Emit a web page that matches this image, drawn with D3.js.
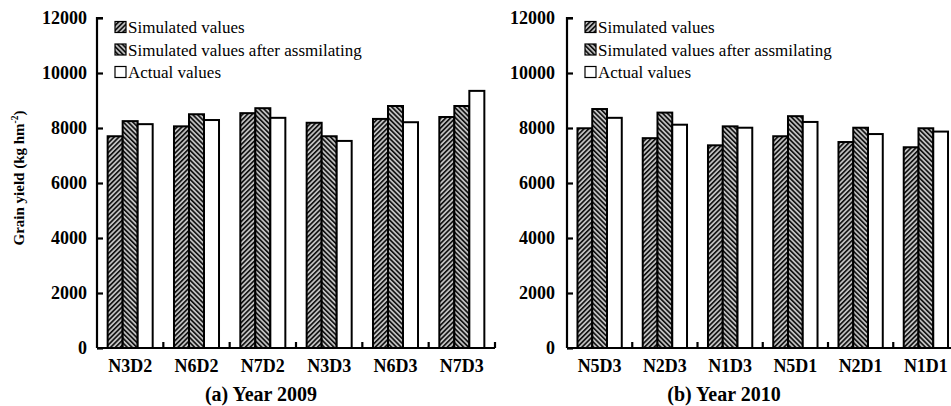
<!DOCTYPE html>
<html><head><meta charset="utf-8">
<script src="https://cdn.jsdelivr.net/npm/d3@7"></script>
<style>body{margin:0;background:#fff}svg{display:block}</style>
</head><body>
<svg id="c" width="951" height="406"></svg>
<script>
const series = ["Simulated values", "Simulated values after assmilating", "Actual values"];
const cats2009 = ["N3D2", "N6D2", "N7D2", "N3D3", "N6D3", "N7D3"];
const sim2009 = [7700, 8060, 8540, 8190, 8330, 8400];
const assim2009 = [8250, 8500, 8720, 7700, 8800, 8800];
const actual2009 = [8140, 8290, 8370, 7530, 8210, 9350];
const cats2010 = ["N5D3", "N2D3", "N1D3", "N5D1", "N2D1", "N1D1"];
const sim2010 = [7990, 7630, 7370, 7700, 7490, 7300];
const assim2010 = [8690, 8560, 8060, 8430, 8010, 7990];
const actual2010 = [8370, 8120, 8010, 8220, 7780, 7870];
const yTicks = [0, 2000, 4000, 6000, 8000, 10000, 12000];
const titles = ["(a) Year 2009", "(b) Year 2010"];
const yLabel = "Grain yield (kg hm";

const svg = d3.select("#c");
const FONT = "'Liberation Serif', 'Times New Roman', serif";
const defs = svg.append("defs");
function hatch(id, angle) {
  const p = defs.append("pattern").attr("id", id).attr("patternUnits", "userSpaceOnUse")
    .attr("width", 3.4).attr("height", 3.4).attr("patternTransform", `rotate(${angle})`);
  p.append("rect").attr("width", 3.4).attr("height", 3.4).attr("fill", "#c0c0c0");
  p.append("line").attr("x1", 0.8).attr("y1", 0).attr("x2", 0.8).attr("y2", 3.4)
    .attr("stroke", "#000").attr("stroke-width", 1.5);
}
hatch("h1", 45);
hatch("h2", -45);
const fills = ["url(#h1)", "url(#h2)", "#fff"];

const panels = [
  {cats: cats2009, data: [sim2009, assim2009, actual2009], x0: 97, x1: 495, title: titles[0], tx: 261, lx: 115, labRight: 87},
  {cats: cats2010, data: [sim2010, assim2010, actual2010], x0: 567, x1: 958.5, title: titles[1], tx: 724, lx: 585, labRight: 555}
];
const y = d3.scaleLinear().domain([0, 12000]).range([348, 18]);

panels.forEach(p => {
  const g = svg.append("g");
  const xb = d3.scaleBand().domain(p.cats).range([p.x0, p.x1]).padding(0);
  const xs = d3.scaleBand().domain(d3.range(3)).range([0, xb.bandwidth()]).paddingInner(0).paddingOuter(0.71);
  p.cats.forEach((c, i) => {
    for (let s = 0; s < 3; s++) {
      const v = p.data[s][i];
      g.append("rect").attr("x", xb(c) + xs(s)).attr("y", y(v))
        .attr("width", xs.bandwidth()).attr("height", y(0) - y(v))
        .attr("fill", fills[s]).attr("stroke", "#000").attr("stroke-width", 2);
    }
  });
  const ya = d3.axisRight(y).tickValues(yTicks).tickSize(6).tickFormat("");
  const yg = g.append("g").attr("transform", `translate(${p.x0},0)`).call(ya);
  yg.select(".domain").attr("stroke-width", 2.2).attr("d", `M6,${y(12000)}H0V${y(0)}`);
  yg.selectAll(".tick line").attr("stroke-width", 2.2);
  g.selectAll(".ylab").data(yTicks).enter().append("text")
    .attr("x", p.labRight).attr("y", d => y(d) + 6)
    .attr("text-anchor", "end").attr("font-family", FONT).attr("font-weight", "bold")
    .attr("font-size", 18).text(d => d);
  const xa = d3.axisTop(xb).tickSize(0).tickFormat("");
  const xg = g.append("g").attr("transform", `translate(0,${y(0)})`).call(xa);
  xg.select(".domain").attr("stroke-width", 2.2).attr("d", `M${p.x0},0H${p.x1}`);
  xg.selectAll(".tick").remove();
  const bounds = p.cats.map((c, i) => xb(c) + xb.bandwidth());
  g.selectAll(".xt").data(bounds).enter().append("line")
    .attr("x1", d => d).attr("x2", d => d).attr("y1", y(0)).attr("y2", y(0) - 6)
    .attr("stroke", "#000").attr("stroke-width", 2.2);
  g.selectAll(".xl").data(p.cats).enter().append("text")
    .attr("x", d => xb(d) + xb.bandwidth() / 2).attr("y", 372)
    .attr("text-anchor", "middle").attr("font-family", FONT).attr("font-weight", "bold")
    .attr("font-size", 18).text(d => d);
  g.append("text").attr("x", p.tx).attr("y", 401).attr("text-anchor", "middle")
    .attr("font-family", FONT).attr("font-weight", "bold").attr("font-size", 20).text(p.title);
  series.forEach((s, k) => {
    const cy = 27 + k * 22.5;
    g.append("rect").attr("x", p.lx).attr("y", cy - 5.5).attr("width", 11).attr("height", 11)
      .attr("fill", fills[k]).attr("stroke", "#000").attr("stroke-width", 1.2);
    g.append("text").attr("x", p.lx + 13).attr("y", cy + 6).attr("font-family", FONT)
      .attr("font-size", 17).text(s);
  });
});

const yt = svg.append("text").attr("transform", "translate(24,178) rotate(-90)")
  .attr("text-anchor", "middle").attr("font-family", FONT).attr("font-weight", "bold").attr("font-size", 15);
yt.append("tspan").text(yLabel);
yt.append("tspan").attr("font-size", 9.5).attr("dy", -6).text("-2");
yt.append("tspan").attr("dy", 6).text(")");
</script>
</body></html>
